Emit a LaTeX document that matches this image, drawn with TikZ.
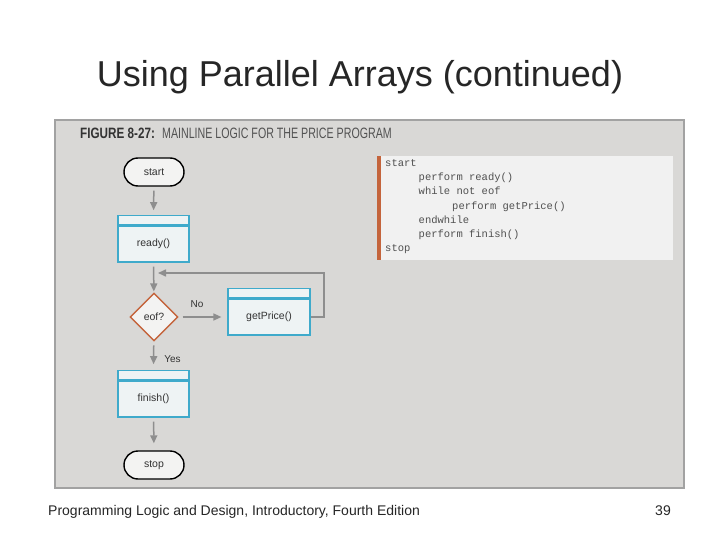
\documentclass[tikz,border=0pt]{standalone}
\usepackage{fontspec}
\setmainfont{Liberation Sans}
\newfontfamily\codefont{Liberation Mono}
\usetikzlibrary{arrows.meta,positioning,shapes.geometric}
\definecolor{panelc}{HTML}{D9D8D6}
\definecolor{paneledge}{HTML}{A2A2A2}
\definecolor{termfill}{HTML}{F3F3F2}
\definecolor{boxc}{HTML}{3FAACB}
\definecolor{boxfill}{HTML}{EEF3F4}
\definecolor{decc}{HTML}{C4643C}
\definecolor{arrc}{HTML}{8E8E8E}
\definecolor{codefill}{HTML}{F1F1F1}
\definecolor{inkc}{HTML}{333333}
\definecolor{codeink}{HTML}{505050}
\tikzset{
  term/.style={rectangle, rounded corners=14pt, draw=black, line width=1.4pt, fill=termfill,
    minimum width=60pt, minimum height=28pt, inner sep=0pt, font=\fontsize{10.5}{12}\selectfont, text=inkc},
  procbody/.style={rectangle, draw=boxc, line width=1.2pt, fill=boxfill, minimum width=71pt,
    minimum height=36pt, inner sep=0pt, font=\fontsize{10.5}{12}\selectfont, text=inkc},
  prochead/.style={rectangle, draw=boxc, line width=1.2pt, fill=boxfill, minimum width=71pt,
    minimum height=9pt, inner sep=0pt},
  dec/.style={diamond, aspect=1, draw=decc, line width=1.4pt, fill=termfill, minimum size=48pt,
    inner sep=0pt, font=\fontsize{10.5}{12}\selectfont, text=inkc},
  flow/.style={draw=arrc, line width=1.5pt, -{Triangle[length=8pt,width=7pt]}, shorten <=4pt, shorten >=5pt},
  tag/.style={font=\fontsize{10}{12}\selectfont, text=inkc, inner sep=0pt},
  codeln/.style={font=\codefont\fontsize{10.5}{12}\selectfont, text=codeink, inner sep=0pt, anchor=base west},
}
\begin{document}
\begin{tikzpicture}[x=1pt,y=-1pt]
  \useasboundingbox (0,0) rectangle (720,540);
  \fill[white] (0,0) rectangle (720,540);
  % slide title and footer
  \node[font=\fontsize{36}{40}\selectfont, text=black!85, anchor=base] (title) at (360,87) {Using Parallel Arrays (continued)};
  \node[font=\fontsize{14}{16}\selectfont, text=black!85, anchor=base west, inner sep=0pt] (foot) at (48,515) {Programming Logic and Design, Introductory, Fourth Edition};
  \node[font=\fontsize{14}{16}\selectfont, text=black!85, anchor=base east, inner sep=0pt] (pageno) at (671,515) {39};
  % figure panel
  \draw[paneledge, fill=panelc, line width=1.5pt] (55,120) rectangle (684,488);
  \node[font=\fontsize{15}{17}\selectfont\bfseries, text=inkc, anchor=base west, inner sep=0pt, xscale=0.78] (figno) at (80,139) {FIGURE 8-27:};
  \node[font=\fontsize{15}{17}\selectfont, text=inkc!85, anchor=base west, inner sep=0pt, xscale=0.71] (figttl) at (162,139) {MAINLINE LOGIC FOR THE PRICE PROGRAM};
  % pseudocode
  \fill[codefill] (377,156) rectangle (673,260);
  \fill[decc] (377,156) rectangle (381,260);
  \foreach \txt/\ind [count=\i] in {start/0, perform ready()/1, while not eof/1, perform getPrice()/2,
      endwhile/1, perform finish()/1, stop/0}
    \node[codeln] (code\i) at ({385+33.5*\ind},{166.5+14.2*(\i-1)}) {\txt};
  % flowchart
  \node[term] (start) at (154,172) {start};
  \node[procbody] (ready) at (153.5,244) {ready()};
  \node[prochead, above=0pt of ready] (readyhd) {};
  \node[dec] (eof) at (154,317) {eof?};
  \node[procbody, minimum width=82pt] (getprice) at (269,317) {getPrice()};
  \node[prochead, minimum width=82pt, above=0pt of getprice] (getpricehd) {};
  \node[procbody] (finish) at (153.5,399) {finish()};
  \node[prochead, above=0pt of finish] (finishhd) {};
  \node[term] (stop) at (154,465) {stop};
  \coordinate (loopcorner) at (324,273);
  \coordinate (loopin) at (158,273);
  \draw[flow] (start) -- (readyhd);
  \draw[flow, shorten >=1pt] (ready) -- (eof);
  \draw[flow, shorten >=6pt] (eof) -- node[tag, above=9pt, xshift=-6pt] (nolbl) {No} (getprice);
  \draw[flow, shorten >=6pt] (eof) -- node[tag, right=10pt, yshift=-3.5pt] (yeslbl) {Yes} (finishhd);
  \draw[flow, shorten >=7pt] (finish) -- (stop);
  \draw[flow, shorten <=0pt, shorten >=0pt] (getprice.east) -| (loopcorner) -- (loopin);
\end{tikzpicture}
\end{document}
